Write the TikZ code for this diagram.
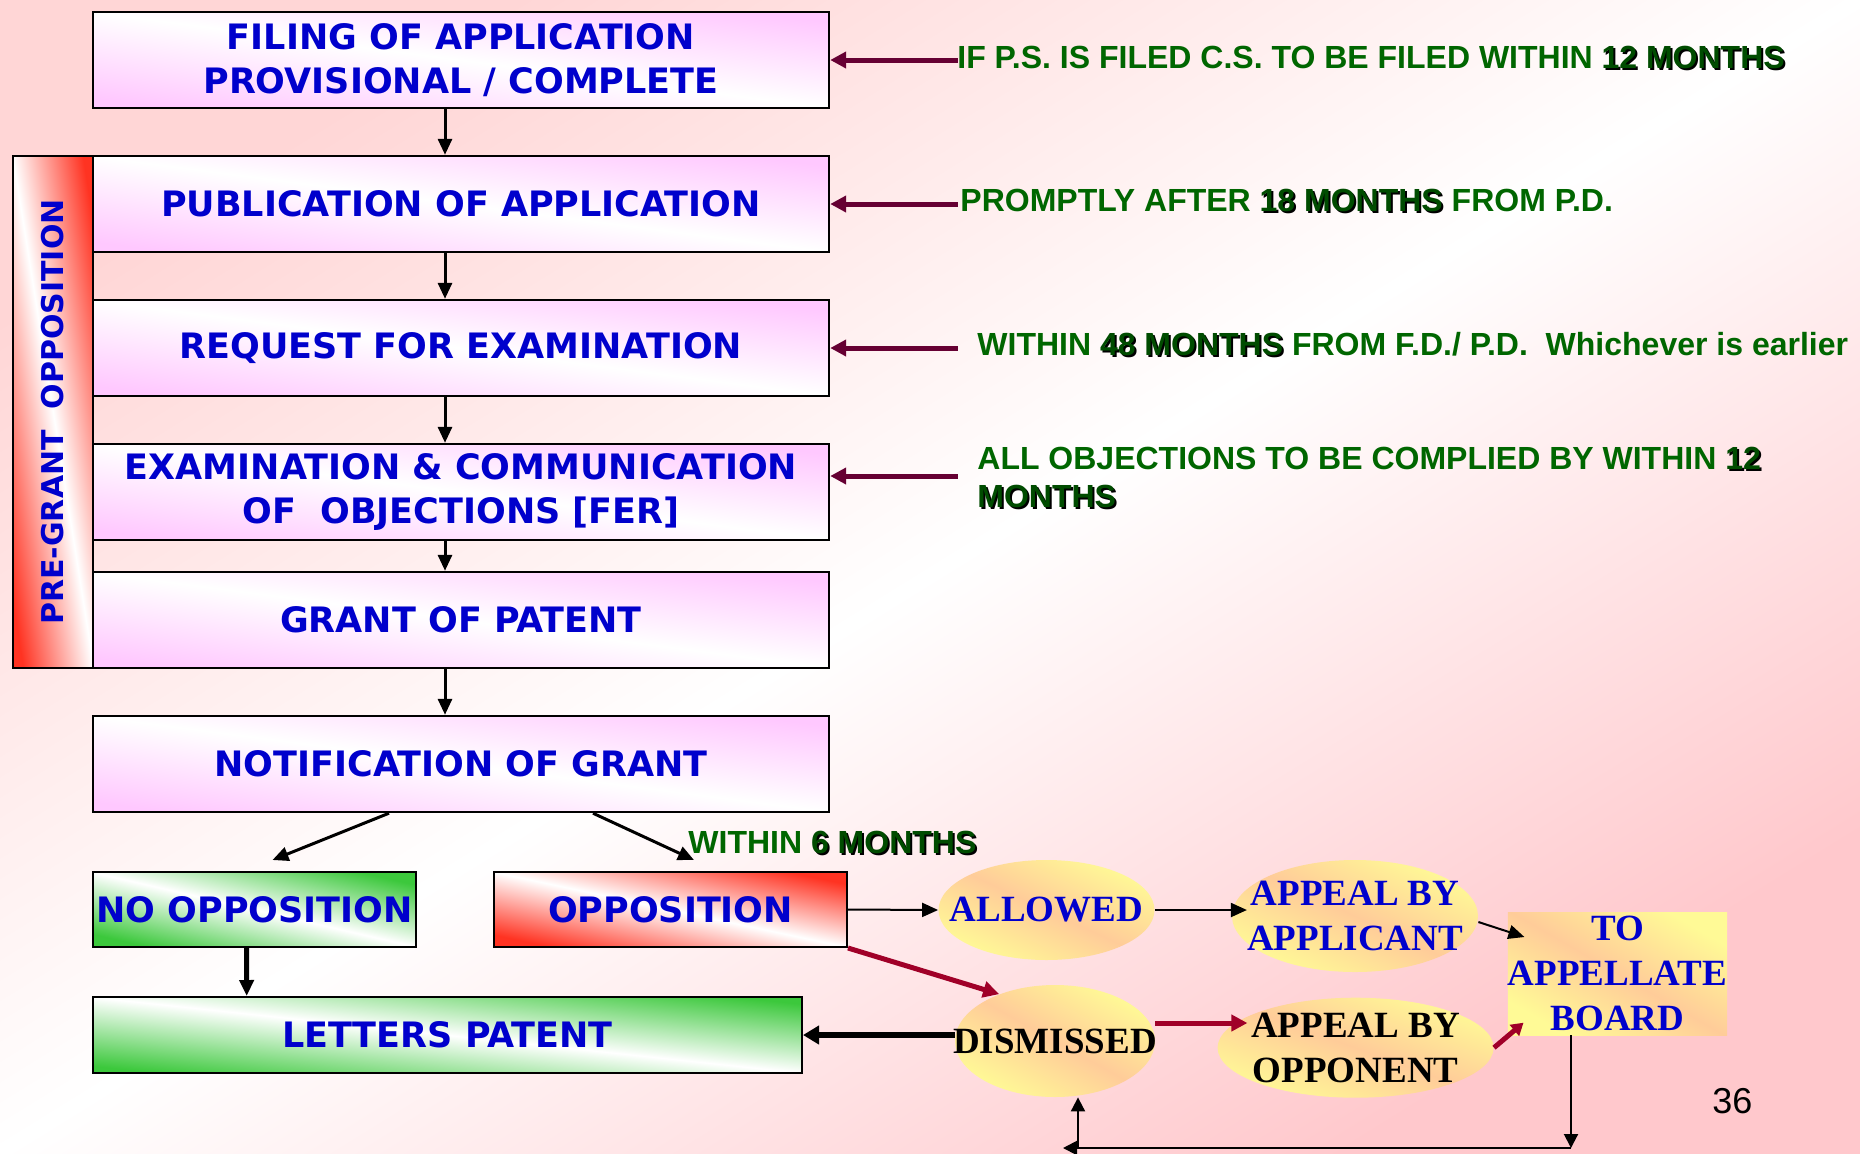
\documentclass[tikz,border=0pt]{standalone}
\usepackage{fontspec}
\usetikzlibrary{shapes.geometric,arrows.meta}
\newfontfamily\boxfont{DejaVu Sans}
\newfontfamily\notefont{Liberation Sans}
\newfontfamily\ovalfont{Liberation Serif}
\definecolor{textblue}{RGB}{0,0,204}
\definecolor{notegreen}{RGB}{0,102,0}
\definecolor{boxpink}{RGB}{255,200,255}
\definecolor{oppgreen}{RGB}{60,200,60}
\definecolor{oppred}{RGB}{255,51,34}
\definecolor{ovalyellow}{RGB}{255,250,150}
\definecolor{ovalpeach}{RGB}{255,204,153}
\definecolor{bgpinkA}{RGB}{255,214,214}
\definecolor{bgpinkB}{RGB}{255,200,204}
\definecolor{notearrow}{RGB}{102,0,51}
\definecolor{redarrow}{RGB}{160,0,40}
\newcommand{\monthsmark}[1]{\makebox[0pt][l]{\hspace{1pt}\raisebox{-1pt}{\textcolor{black}{#1}}}\textcolor{notegreen!75!black}{#1}}
\begin{document}
\begin{tikzpicture}[x=0.5pt,y=-0.5pt,
  stepbox/.style={draw,line width=1.2pt,minimum width=368pt,minimum height=48pt,inner sep=0pt,
    align=center,text=textblue,font=\boxfont\bfseries\fontsize{17.5pt}{22pt}\selectfont,
    top color=#1,bottom color=#1,middle color=white,shading angle=-7.4},
  stepbox/.default=boxpink,
  note/.style={anchor=base west,inner sep=0pt,align=left,text=notegreen,
    font=\notefont\bfseries\fontsize{16pt}{19pt}\selectfont},
  oval/.style={ellipse,inner xsep=-30pt,inner ysep=-10pt,align=center,
    top color=ovalyellow,bottom color=ovalyellow,middle color=ovalpeach,shading angle=-25,
    font=\ovalfont\bfseries\fontsize{18.5pt}{22.5pt}\selectfont},
  flow/.style={-{Triangle[length=8pt,width=7pt]},line width=1.5pt},
  notelink/.style={{Triangle[length=8pt,width=8pt]}-,line width=2.5pt,draw=notearrow,fill=notearrow},
  redlink/.style={-{Triangle[length=8pt,width=8pt]},line width=2.5pt,draw=redarrow,fill=redarrow},
  looplink/.style={-{Triangle[length=7pt,width=7pt]},line width=1pt}]
      \useasboundingbox (0,0) rectangle (1860,1153);%
      \shade[top color=bgpinkA,bottom color=bgpinkB,middle color=white,shading angle=31.8] (0,0) rectangle (1860,1153);%

      \node[stepbox=oppred,shading angle=-81,minimum width=40pt,minimum height=256pt,font=\boxfont\bfseries\fontsize{15pt}{18pt}\selectfont] (pregrant) at (53,412) {\rotatebox{90}{PRE-GRANT\ \ OPPOSITION}};%

      \node[stepbox] (filing) at (461,60) {FILING OF APPLICATION\\PROVISIONAL / COMPLETE};%
      \node[stepbox] (pub) at (461,204) {PUBLICATION OF APPLICATION};%
      \node[stepbox] (req) at (461,348) {REQUEST FOR EXAMINATION};%
      \node[stepbox] (exam) at (461,492) {EXAMINATION \& COMMUNICATION\\OF\ \ OBJECTIONS [FER]};%
      \node[stepbox] (grant) at (461,620) {GRANT OF PATENT};%
      \node[stepbox] (notif) at (461,764) {NOTIFICATION OF GRANT};%

      \node[stepbox=oppgreen,shading angle=-13,line width=1pt,minimum width=161.5pt,minimum height=37.5pt] (noopp) at (254.5,909.5) {NO OPPOSITION};%
      \node[stepbox=oppred,shading angle=-12,line width=1pt,minimum width=176.5pt,minimum height=37.5pt] (opp) at (670.5,909.5) {OPPOSITION};%
      \node[stepbox=oppgreen,shading angle=-6.1,line width=1pt,minimum width=354.5pt,minimum height=38pt] (letters) at (447.5,1035) {LETTERS PATENT};%

      \node[oval,text=textblue,minimum width=108pt,minimum height=50pt] (allowed) at (1046.5,910) {ALLOWED};%
      \node[oval,text=textblue,minimum width=123pt,minimum height=56pt] (applicant) at (1355,916) {APPEAL BY\\APPLICANT};%
      \node[oval,shading angle=-29,minimum width=100pt,minimum height=56pt] (dismissed) at (1055,1041) {DISMISSED};%
      \node[oval,shading angle=-20,minimum width=138pt,minimum height=50pt] (opponent) at (1355.6,1047.7) {APPEAL BY\\OPPONENT};%
      \node[oval,rectangle,shading angle=-30,inner sep=0pt,text=textblue,minimum width=107.5pt,minimum height=61.5pt] (board) at (1617.5,973.5) {TO\\APPELLATE\\BOARD};%

      \node[note] (noteA) at (957,68) {IF P.S. IS FILED C.S. TO BE FILED WITHIN \monthsmark{12 MONTHS}};%
      \node[note] (noteB) at (960,211) {PROMPTLY AFTER \monthsmark{18 MONTHS} FROM P.D.};%
      \node[note] (noteC) at (977,355) {WITHIN \monthsmark{48 MONTHS} FROM F.D./ P.D.\ \ Whichever is earlier};%
      \node[note] (noteD) at (977,507) {ALL OBJECTIONS TO BE COMPLIED BY WITHIN \monthsmark{12}\\\monthsmark{MONTHS}};%
      \node[note] (sixmonths) at (688,853) {WITHIN \monthsmark{6 MONTHS}};%
      \node[note,text=black,font=\notefont\fontsize{18pt}{20pt}\selectfont] (pageno) at (1712,1113) {36};%

      \coordinate (loopR) at (1571,1148);%
      \coordinate (loopL) at (1063,1148);%
      \coordinate (loopU) at (1078,1148);%

      \draw[notelink] (filing.east) -- ++(128,0);%
      \draw[notelink] (pub.east) -- ++(128,0);%
      \draw[notelink] (req.east) -- ++(128,0);%
      \draw[notelink] ([yshift=8pt]exam.east) -- ++(128,0);%

      \draw[flow] ([xshift=-8pt]filing.south) -- ([xshift=-8pt]pub.north);%
      \draw[flow] ([xshift=-8pt]pub.south) -- ([xshift=-8pt]req.north);%
      \draw[flow] ([xshift=-8pt]req.south) -- ([xshift=-8pt]exam.north);%
      \draw[flow] ([xshift=-8pt]exam.south) -- ([xshift=-8pt]grant.north);%
      \draw[flow] ([xshift=-8pt]grant.south) -- ([xshift=-8pt]notif.north);%

      \draw[flow] ([xshift=-36pt]notif.south) -- ([xshift=9pt,yshift=5.5pt]noopp.north);%
      \draw[flow] ([xshift=66pt]notif.south) -- ([xshift=11.75pt,yshift=5.5pt]opp.north);%
      \draw[flow,line width=2.5pt] ([xshift=-4pt]noopp.south) -- ([xshift=-100.4pt]letters.north);%

      \draw[flow,line width=1pt] (opp.east) -- (allowed.west);%
      \draw[flow,line width=1pt] (allowed.east) -- ++(92,0);%
      \draw[flow,line width=1pt] ([yshift=-3pt]applicant.east) -- ++(46,15);%
      \draw[redlink] (opp.south east) -- (dismissed.140);%
      \draw[redlink] ([yshift=9pt]dismissed.east) -- ++(92,0);%
      \draw[redlink,-{Triangle[length=6pt,width=7pt]}] (opponent.east) -- ++(29.5,-25);%
      \draw[-{Triangle[length=8pt,width=9pt]},line width=3pt] ([yshift=3pt]dismissed.west) -- (letters.east);%

      \draw[looplink] ([xshift=-23.25pt]board.south) -- (loopR);%
      \draw[looplink] (loopR) -- (loopL);%
      \draw[looplink] (loopU) -- ([xshift=11.5pt]dismissed.south);%
\end{tikzpicture}
\end{document}
